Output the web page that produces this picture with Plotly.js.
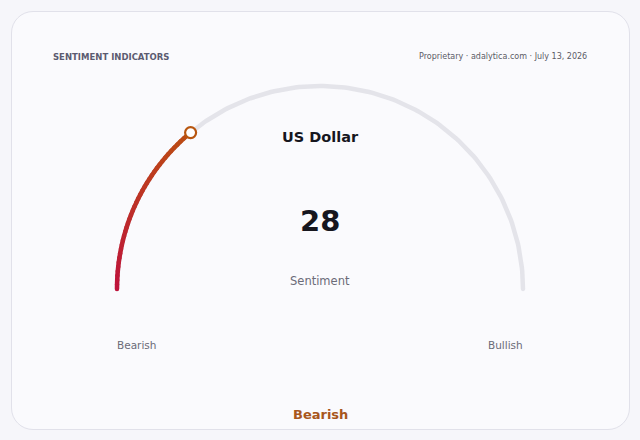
<!DOCTYPE html>
<html>
<head>
<meta charset="utf-8">
<script src="https://cdn.plot.ly/plotly-3.0.1.min.js"></script>
<style>
  html, body { margin: 0; padding: 0; background: #f6f6fa; width: 640px; height: 440px; overflow: hidden; }
  #card { position: absolute; left: 11px; top: 11px; width: 619px; height: 419px; border: 1px solid #e1e1ea; border-radius: 22px; background: #fafafd; box-sizing: border-box; }
  #chart { position: absolute; left: 0; top: 0; width: 640px; height: 440px; }
  #chart .js-line { stroke-linecap: round; }
</style>
</head>
<body>
<div id="card"></div>
<div id="chart"></div>
<script>
// ---- data ----
const assetName = "US Dollar";
const metricLabel = "Sentiment";
const scaleMin = 0;
const scaleMax = 100;
const sentimentValue = 28;
const scaleEndLabels = ["Bearish", "Bullish"];
const verdictLabel = "Bearish";
const headerLeft = "SENTIMENT INDICATORS";
const headerRight = "Proprietary · adalytica.com · July 13, 2026";

// ---- styling ----
const W = 640, H = 440;
const cx = 320, cy = 289, R = 203;   // gauge centre and radius in px
const startColor = [190, 18, 60];
const endColor = [188, 78, 18];
const trackColor = "#e4e4ea";

function angleOf(v) { return Math.PI * (1 - (v - scaleMin) / (scaleMax - scaleMin)); }
function arcPts(v0, v1, n) {
  const xs = [], ys = [];
  for (let i = 0; i <= n; i++) {
    const a = angleOf(v0 + (v1 - v0) * i / n);
    xs.push(Math.cos(a)); ys.push(Math.sin(a));
  }
  return {x: xs, y: ys};
}
function mix(t) {
  const c = startColor.map((s, i) => Math.round(s + (endColor[i] - s) * t));
  return `rgb(${c[0]},${c[1]},${c[2]})`;
}

const traces = [];
const track = arcPts(scaleMin, scaleMax, 180);
traces.push({type: "scatter", mode: "lines", x: track.x, y: track.y, line: {color: trackColor, width: 4.5}, hoverinfo: "skip"});

const nSeg = 40;
for (let k = 0; k < nSeg; k++) {
  const v0 = scaleMin + (sentimentValue - scaleMin) * k / nSeg;
  const v1 = scaleMin + (sentimentValue - scaleMin) * (k + 1) / nSeg;
  const p = arcPts(v0, v1, 3);
  traces.push({type: "scatter", mode: "lines", x: p.x, y: p.y, line: {color: mix((k + 0.5) / nSeg), width: 4.5}, hoverinfo: "skip"});
}
const aV = angleOf(sentimentValue);
traces.push({type: "scatter", mode: "markers", x: [Math.cos(aV)], y: [Math.sin(aV)],
  marker: {size: 11, color: "#ffffff", line: {color: "#b8560f", width: 2.2}}, hoverinfo: "skip"});

const px = x => x / W, py = y => 1 - y / H;
const font = "DejaVu Sans, sans-serif";
const annotations = [
  {x: px(51), y: py(57), xanchor: "left", yanchor: "middle", text: "<b>" + headerLeft + "</b>", font: {family: font, size: 8.5, color: "#5b5b70"}},
  {x: px(589), y: py(57), xanchor: "right", yanchor: "middle", text: headerRight, font: {family: font, size: 8, color: "#5b5b66"}},
  {x: px(320), y: py(137), xanchor: "center", yanchor: "middle", text: "<b>" + assetName + "</b>", font: {family: font, size: 14.5, color: "#16161e"}},
  {x: px(320), y: py(221), xanchor: "center", yanchor: "middle", text: "<b>" + sentimentValue + "</b>", font: {family: font, size: 29, color: "#16161e"}},
  {x: px(320), y: py(281), xanchor: "center", yanchor: "middle", text: metricLabel, font: {family: font, size: 11.5, color: "#6b6b78"}},
  {x: px(136), y: py(345), xanchor: "center", yanchor: "middle", text: scaleEndLabels[0], font: {family: font, size: 10.5, color: "#6b6b78"}},
  {x: px(505), y: py(345), xanchor: "center", yanchor: "middle", text: scaleEndLabels[1], font: {family: font, size: 10.5, color: "#6b6b78"}},
  {x: px(320), y: py(414), xanchor: "center", yanchor: "middle", text: "<b>" + verdictLabel + "</b>", font: {family: font, size: 13, color: "#a8561c"}}
].map(a => Object.assign({xref: "paper", yref: "paper", showarrow: false}, a));

const layout = {
  width: W, height: H,
  margin: {l: 0, r: 0, t: 0, b: 0},
  paper_bgcolor: "rgba(0,0,0,0)", plot_bgcolor: "rgba(0,0,0,0)",
  showlegend: false,
  xaxis: {range: [-cx / R, (W - cx) / R], visible: false, fixedrange: true},
  yaxis: {range: [-(H - cy) / R, cy / R], visible: false, fixedrange: true},
  annotations: annotations
};
Plotly.newPlot("chart", traces, layout, {displayModeBar: false, staticPlot: true});
</script>
</body>
</html>
